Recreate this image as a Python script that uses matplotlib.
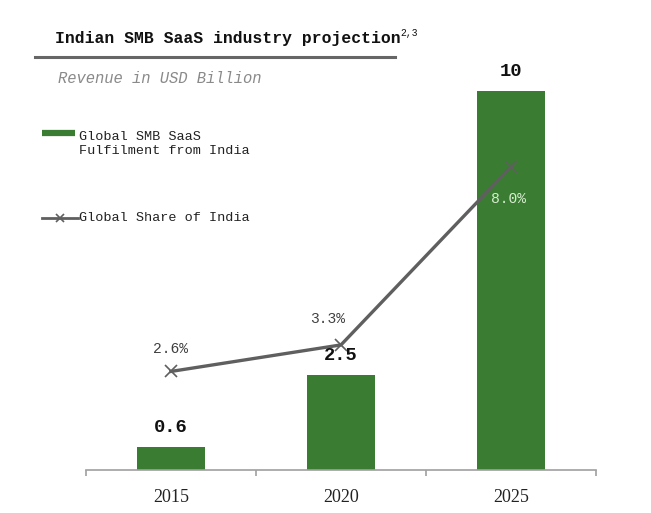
import matplotlib
matplotlib.use("Agg")
import matplotlib.pyplot as plt
from matplotlib.lines import Line2D

# data
years = ["2015", "2020", "2025"]
revenue = [0.6, 2.5, 10]
revenue_labels = ["0.6", "2.5", "10"]
share = [2.6, 3.3, 8.0]
share_labels = ["2.6%", "3.3%", "8.0%"]

GREEN = "#3a7d32"
GREY_LINE = "#5f5f5f"
FONT = "Liberation Mono"

plt.rcParams['font.family'] = [FONT, 'DejaVu Sans']

fig = plt.figure(figsize=(6.51, 5.13), dpi=100)
ax = fig.add_axes([0.1321, 0.0838, 0.7834, 0.8499])

x = list(range(len(years)))
ax.bar(x, revenue, width=0.405, color=GREEN, zorder=2)
# share is drawn on the same vertical scale as the bars
ax.plot(x, share, color=GREY_LINE, linewidth=2.4, marker="x", markersize=9,
        markeredgewidth=1.2, zorder=3)

ax.set_xlim(-0.5, 2.5)
ax.set_ylim(0, 11.5)

for s in ["top", "left", "right"]:
    ax.spines[s].set_visible(False)
ax.spines["bottom"].set_color("#a0a0a0")
ax.spines["bottom"].set_linewidth(1.2)
ax.set_yticks([])
ax.set_xticks(x)
ax.set_xticklabels(years, fontsize=13, color="#222222", family="Liberation Serif")
ax.tick_params(axis="x", which="major", length=0, pad=14)
ax.set_xticks([-0.5, 0.5, 1.5, 2.5], minor=True)
ax.tick_params(axis="x", which="minor", length=4, color="#a0a0a0", width=1.2)

# bar value labels
for xi, v, lab in zip(x, revenue, revenue_labels):
    ax.annotate(lab, (xi, v), xytext=(0, 8), textcoords="offset points",
                ha="center", va="bottom", fontsize=13.5, fontweight="bold",
                color="#111111")

# share labels
share_offsets = [(0, 16), (-10, 19), (-2, -23)]
share_colors = ["#404040", "#404040", "#d8ecd2"]
for xi, v, lab, off, c in zip(x, share, share_labels, share_offsets, share_colors):
    ax.annotate(lab, (xi, v), xytext=off, textcoords="offset points",
                ha="center", va="center", fontsize=10.5, color=c)

# title, underline, subtitle
fig.text(55 / 651, 1 - 38 / 513, "Indian SMB SaaS industry projection",
         fontsize=11.8, fontweight="bold", va="center", ha="left", color="#111111")
fig.text(400 / 651, 1 - 33 / 513, "2,3", fontsize=7, va="center", ha="left",
         color="#111111")
fig.add_artist(Line2D([35 / 651, 395 / 651], [1 - 57 / 513, 1 - 57 / 513],
                      color="#666666", linewidth=2.2))
fig.text(58 / 651, 1 - 79 / 513, "Revenue in USD Billion", fontsize=11.2,
         style="italic", va="center", ha="left", color="#8a8a8a")

# legend
fig.add_artist(Line2D([42 / 651, 75 / 651], [1 - 133 / 513, 1 - 133 / 513],
                      color=GREEN, linewidth=4.5, solid_capstyle="butt"))
fig.text(79 / 651, 1 - 144 / 513, "Global SMB SaaS\nFulfilment from India",
         fontsize=9.7, va="center", ha="left", color="#222222", linespacing=1.15)
fig.add_artist(Line2D([42 / 651, 78 / 651], [1 - 218 / 513, 1 - 218 / 513],
                      color=GREY_LINE, linewidth=2.0))
fig.add_artist(Line2D([60 / 651], [1 - 218 / 513], color=GREY_LINE, marker="x",
                      markersize=6, markeredgewidth=1.2, linestyle="none"))
fig.text(79 / 651, 1 - 218 / 513, "Global Share of India", fontsize=9.7,
         va="center", ha="left", color="#222222")

fig.savefig("out.png", dpi=100)
